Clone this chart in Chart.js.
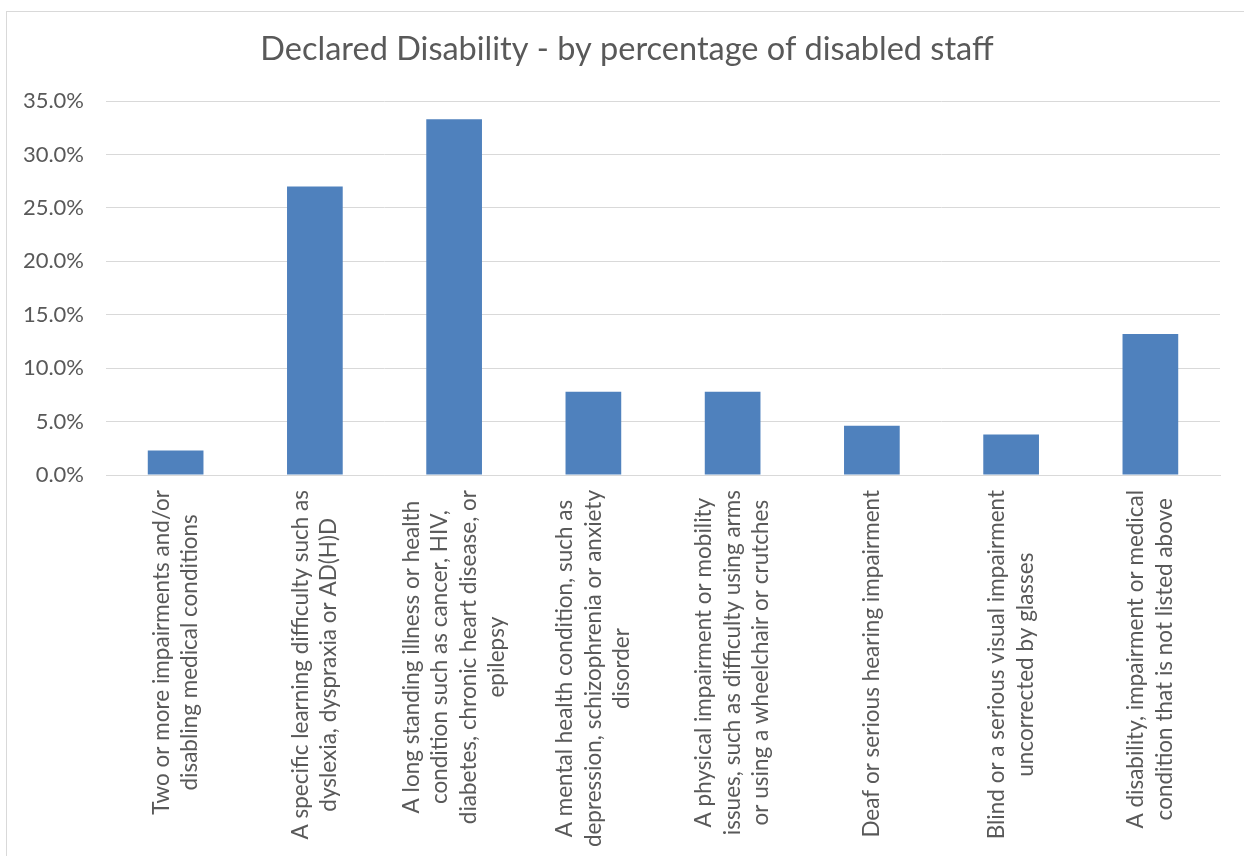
<!DOCTYPE html>
<html>
<head>
<meta charset="utf-8">
<title>Declared Disability</title>
<script src="https://cdn.jsdelivr.net/npm/chart.js@4.4.0/dist/chart.umd.min.js"></script>
<style>
    html, body { margin: 0; padding: 0; background: #ffffff; overflow: hidden; }
    #wrap { position: relative; width: 1244px; height: 856px; }
    #frame { position: absolute; left: 6px; top: 11px; width: 1300px; height: 900px; border: 1px solid #d9d9d9; box-sizing: border-box; }
    #myChart { position: absolute; left: 0; top: 0; }
</style>
</head>
<body>
<div id="wrap">
    <div id="frame"></div>
    <canvas id="myChart" width="1244" height="856"></canvas>
</div>
<script>
    // category labels, one array of lines per bar
    var categories = [
        ['Two or more impairments and/or', 'disabling medical conditions'],
        ['A specific learning difficulty such as', 'dyslexia, dyspraxia or AD(H)D'],
        ['A long standing illness or health', 'condition such as cancer, HIV,', 'diabetes, chronic heart disease, or', 'epilepsy'],
        ['A mental health condition, such as', 'depression, schizophrenia or anxiety', 'disorder'],
        ['A physical impairment or mobility', 'issues, such as difficulty using arms', 'or using a wheelchair or crutches'],
        ['Deaf or serious hearing impairment'],
        ['Blind or a serious visual impairment', 'uncorrected by glasses'],
        ['A disability, impairment or medical', 'condition that is not listed above']
    ];

    // percentage of disabled staff
    var percentValues = [2.3, 27.0, 33.3, 7.8, 7.8, 4.6, 3.8, 13.2];

    // y axis ticks
    var yTicks = [0, 5, 10, 15, 20, 25, 30, 35];

    var TEXT_COLOR = '#595959';
    var GRID_COLOR = '#d9d9d9';
    var FONT_FAMILY = 'Lato, "Liberation Sans", sans-serif';

    // x labels are drawn here so that the lines of each label are centred (Chart.js right-aligns rotated lines)
    var centredLabels = {
        id: 'centredLabels',
        afterDraw: function (chart) {
            var ctx = chart.ctx;
            var xScale = chart.scales.x;
            var lineHeight = 28.5;
            var top = xScale.top + 15;

            ctx.save();
            ctx.font = '22.5px ' + FONT_FAMILY;
            ctx.fillStyle = TEXT_COLOR;
            ctx.textAlign = 'center';
            ctx.textBaseline = 'middle';

            for (var i = 0; i < categories.length; i++) {
                var lines = categories[i];
                var maxW = 0;
                for (var j = 0; j < lines.length; j++) {
                    maxW = Math.max(maxW, ctx.measureText(lines[j]).width);
                }
                var x = xScale.getPixelForValue(i);
                ctx.save();
                ctx.translate(x, top);
                ctx.rotate(-Math.PI / 2);
                for (var k = 0; k < lines.length; k++) {
                    var offset = (k - (lines.length - 1) / 2) * lineHeight;
                    ctx.fillText(lines[k], -maxW / 2, offset);
                }
                ctx.restore();
            }
            ctx.restore();
        }
    };

    function drawChart() {
        var ctx = document.getElementById('myChart');

        var data = {
            labels: categories.map(function (c) { return c.join(' '); }),
            datasets: [
                {
                    label: 'Declared Disability',
                    data: percentValues,
                    backgroundColor: '#4f81bd',
                    borderWidth: 0,
                    categoryPercentage: 1.0,
                    barPercentage: 0.4
                }
            ]
        };

        return new Chart(ctx, {
            type: 'bar',
            data: data,
            plugins: [centredLabels],
            options: {
                responsive: false,
                animation: false,
                layout: {
                    padding: { left: 10, right: 0, top: 0, bottom: 0 }
                },
                plugins: {
                    legend: { display: false },
                    tooltip: { enabled: false },
                    title: {
                        display: true,
                        text: 'Declared Disability - by percentage of disabled staff',
                        color: TEXT_COLOR,
                        font: { family: FONT_FAMILY, size: 32.5, weight: '400', lineHeight: 1.2 },
                        padding: { top: 30, bottom: 32 }
                    }
                },
                scales: {
                    x: {
                        grid: { display: false },
                        border: { display: true, color: GRID_COLOR, width: 1 },
                        ticks: { display: false },
                        afterFit: function (scale) {
                            scale.height = 381;
                        }
                    },
                    y: {
                        min: 0,
                        max: 35,
                        afterBuildTicks: function (scale) {
                            scale.ticks = yTicks.map(function (v) { return { value: v }; });
                        },
                        grid: { color: GRID_COLOR, lineWidth: 1, drawTicks: false },
                        border: { display: false },
                        ticks: {
                            color: TEXT_COLOR,
                            padding: 22,
                            font: { family: FONT_FAMILY, size: 22 },
                            callback: function (value) {
                                return value.toFixed(1) + '%';
                            }
                        },
                        afterFit: function (scale) {
                            scale.width = 96;
                        }
                    },
                    // empty right margin so the plot ends where the reference does
                    yRight: {
                        position: 'right',
                        min: 0,
                        max: 35,
                        grid: { display: false },
                        border: { display: false },
                        ticks: { display: false },
                        afterFit: function (scale) {
                            scale.width = 24;
                        }
                    }
                }
            }
        });
    }

    var myChart = drawChart();
</script>
</body>
</html>
